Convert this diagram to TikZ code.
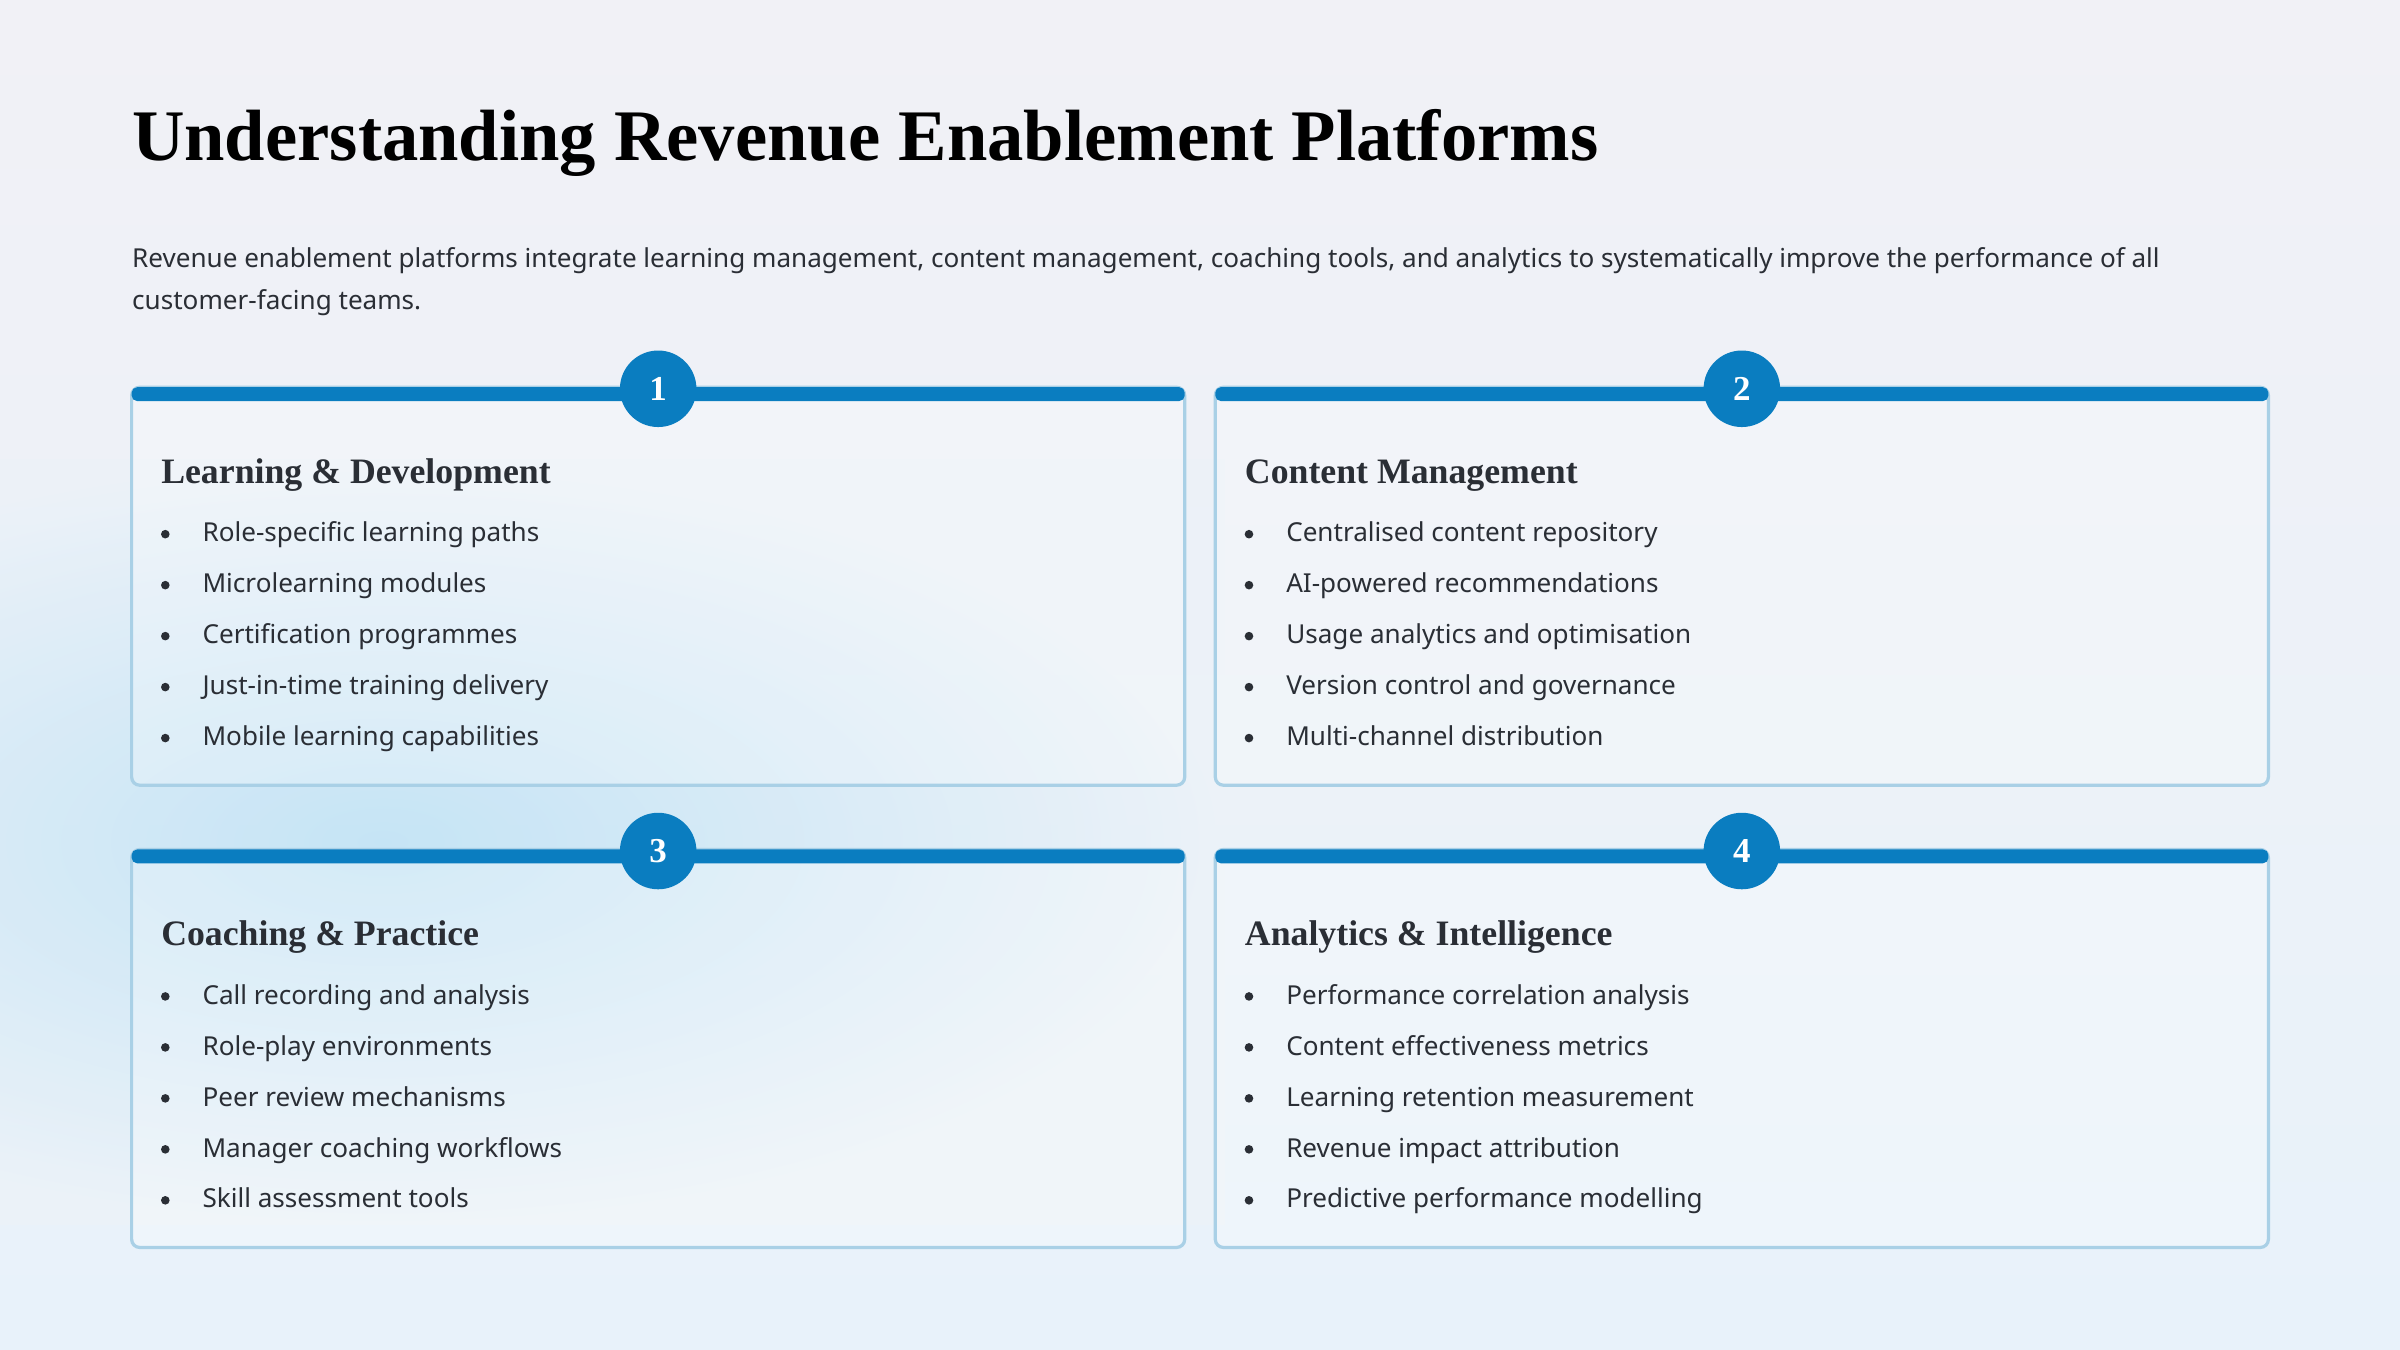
\documentclass[tikz,border=0pt]{standalone}
\usepackage{fontspec}
\setmainfont{Noto Sans}
\newfontfamily\headfont{Liberation Serif}
\usetikzlibrary{positioning}
\definecolor{barblue}{HTML}{0A7DC0}
\definecolor{cardline}{HTML}{A9D0E6}
\definecolor{inktext}{HTML}{2A2E35}

\begin{document}
\begin{tikzpicture}[x=0.02cm, y=-0.02cm,
		card/.style={draw=cardline, line width=1.2pt, rounded corners=3pt, fill=white, fill opacity=0.25},
		topbar/.style={fill=barblue, rounded corners=2pt},
		badge/.style={circle, fill=barblue, minimum size=1cm, inner sep=0pt, text=white, font=\headfont\bfseries\fontsize{13}{13}\selectfont},
		cardhead/.style={anchor=base west, inner sep=0pt, text=inktext, font=\headfont\bfseries\fontsize{13.3}{13.3}\selectfont},
		item/.style={anchor=base west, inner sep=0pt, text=inktext, font=\fontsize{9.7}{9.7}\selectfont},
		dot/.style={circle, fill=inktext, inner sep=0pt, minimum size=3.2pt}]
		% Background
		\useasboundingbox (0,0) rectangle (1568,882);
		\shade[top color={rgb,255:red,241;green,241;blue,246}, bottom color={rgb,255:red,232;green,242;blue,250}] (0,0) rectangle (1568,882);
		\shade[inner color={rgb,255:red,188;green,225;blue,245}, outer color={rgb,255:red,236;green,242;blue,248}, opacity=0.8] (-300,300) rectangle (800,800);

		% Title and intro
		\node[anchor=base west, inner sep=0pt, text=black, font=\headfont\bfseries\fontsize{27}{27}\selectfont] (title) at (86,105) {Understanding Revenue Enablement Platforms};
		\node[anchor=base west, inner sep=0pt, text=inktext, font=\fontsize{9.7}{9.7}\selectfont] (intro1) at (86,175) {Revenue enablement platforms integrate learning management, content management, coaching tools, and analytics to systematically improve the performance of all};
		\node[anchor=base west, inner sep=0pt, text=inktext, font=\fontsize{9.7}{9.7}\selectfont] (intro2) at (86,202) {customer-facing teams.};

		% Cards
		\foreach \n/\cx/\cy/\head/\items in {
			1/86/253/{Learning \& Development}/{Role-specific learning paths,Microlearning modules,Certification programmes,Just-in-time training delivery,Mobile learning capabilities},
			2/794/253/{Content Management}/{Centralised content repository,AI-powered recommendations,Usage analytics and optimisation,Version control and governance,Multi-channel distribution},
			3/86/555/{Coaching \& Practice}/{Call recording and analysis,Role-play environments,Peer review mechanisms,Manager coaching workflows,Skill assessment tools},
			4/794/555/{Analytics \& Intelligence}/{Performance correlation analysis,Content effectiveness metrics,Learning retention measurement,Revenue impact attribution,Predictive performance modelling}} {
			\draw[card] (\cx,\cy) rectangle ++(688,260);
			\fill[topbar] (\cx,\cy) rectangle ++(688,9);
			\node[badge] (badge\n) at ({\cx+344},{\cy+1}) {\n};
			\node[cardhead] (head\n) at ({\cx+19},{\cy+63}) {\head};
			\foreach \t [count=\i] in \items {
				\node[dot] (dot\n\i) at ({\cx+22},{\cy+101+33.3*(\i-1)-5}) {};
				\node[item] (item\n\i) at ({\cx+46},{\cy+101+33.3*(\i-1)}) {\t};
			}
		}
\end{tikzpicture}
\end{document}
